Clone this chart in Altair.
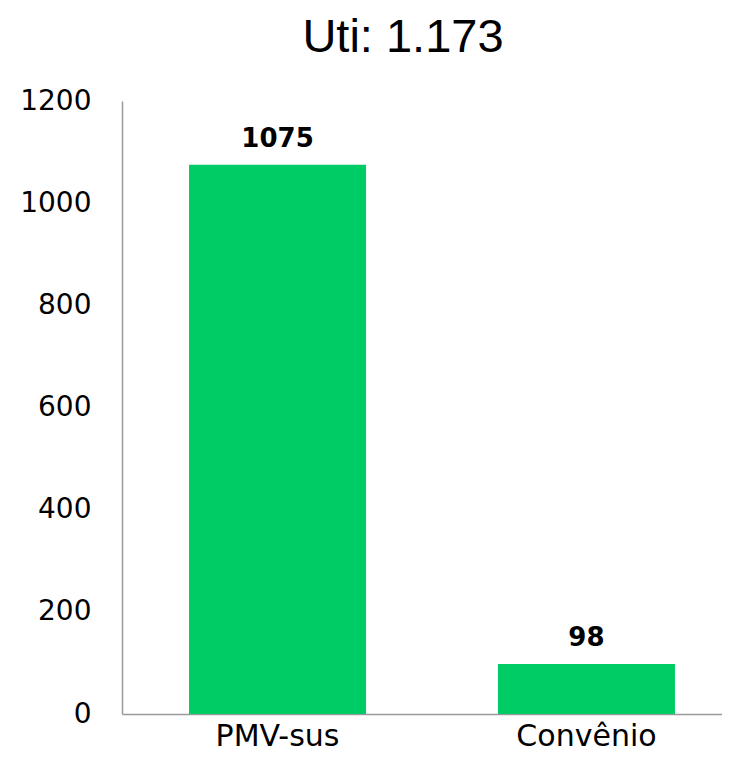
import altair as alt
import pandas as pd

categories = ["PMV-sus", "Convênio"]
values = [1075, 98]
title_text = "Uti: 1.173"
y_ticks = [0, 200, 400, 600, 800, 1000, 1200]

df = pd.DataFrame({"cat": categories, "val": values})

x = alt.X("cat:N", sort=categories, title=None,
          scale=alt.Scale(range=[0, 620], paddingInner=0.427, paddingOuter=0.217),
          axis=alt.Axis(labelAngle=0, labelFont="DejaVu Sans", labelFontSize=30,
                        labelColor="#000000", labelPadding=7, ticks=False,
                        domainColor="#9a9a9a", domainWidth=1.5))
y = alt.Y("val:Q", title=None,
          scale=alt.Scale(domain=[0, 1200], nice=False),
          axis=alt.Axis(values=y_ticks, format="d", grid=False, ticks=False,
                        labelFont="DejaVu Sans", labelFontSize=28, labelColor="#000000",
                        labelPadding=31, domainColor="#9a9a9a", domainWidth=1.5))

base = alt.Chart(df)
bars = base.mark_bar(color="#00CC66").encode(x=x, y=y)
labels = base.mark_text(font="DejaVu Sans", fontWeight="bold", fontSize=26,
                        baseline="alphabetic", dy=-18, color="#000000").encode(
    x=alt.X("cat:N", sort=categories), y="val:Q", text="val:Q")

chart = (bars + labels).properties(
    width=600, height=613,
    title=alt.TitleParams(title_text, font="Liberation Sans", fontSize=47,
                          fontWeight="normal", color="#000000", anchor="middle",
                          dx=-19, offset=25),
    autosize=alt.AutoSizeParams(type="none"),
    padding={"left": 114, "top": 93, "right": 0, "bottom": 38},
).configure_view(stroke=None)

chart.save("out.html", embed_options={"renderer": "svg", "actions": False})
